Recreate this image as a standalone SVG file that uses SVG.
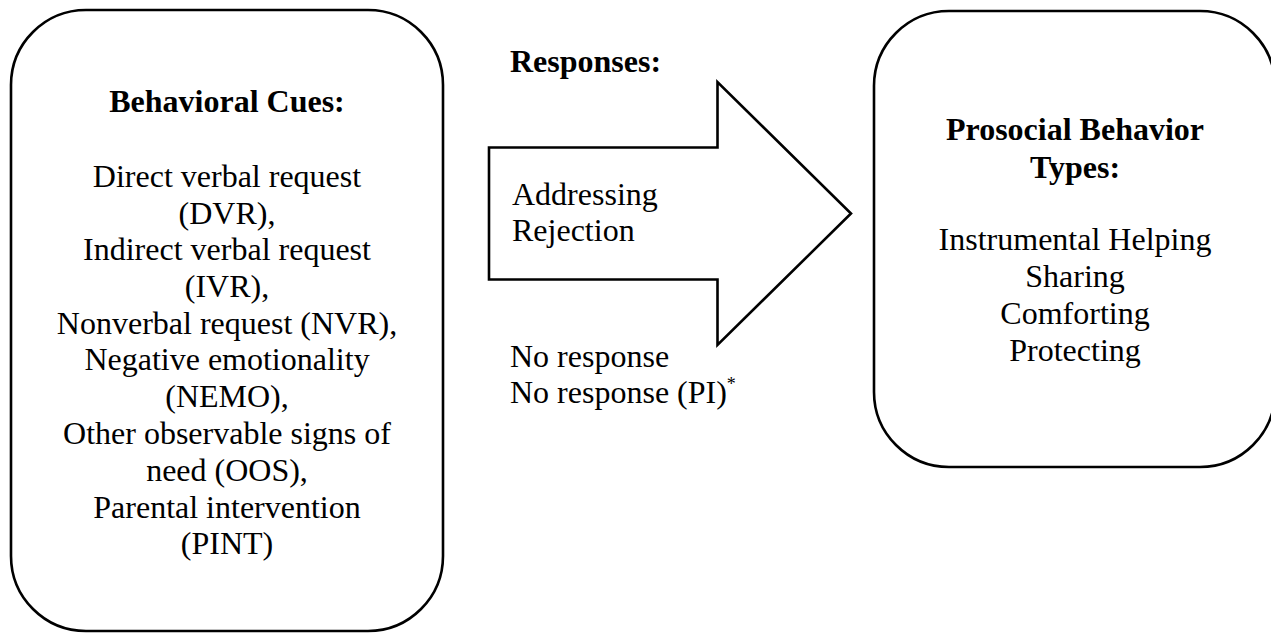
<svg xmlns="http://www.w3.org/2000/svg" width="1271" height="633" viewBox="0 0 1271 633">
<style>
.box{fill:#fff;stroke:#000;stroke-width:2.6}
text{font-family:'Liberation Serif','DejaVu Serif',serif;font-size:32px;fill:#000}
.b{font-weight:bold}
.c{text-anchor:middle}
.sup{font-size:18px}
</style>
<rect width="1271" height="633" fill="#fff"/>
<g id="cues" font-family="Liberation Serif, serif">
<rect class="box" x="11" y="10" width="432" height="621" rx="75" ry="75"/>
<text class="b c" x="227" y="112">Behavioral Cues:</text>
<text class="c" x="227" y="187">Direct verbal request</text>
<text class="c" x="227" y="223.5">(DVR),</text>
<text class="c" x="227" y="260">Indirect verbal request</text>
<text class="c" x="227" y="297">(IVR),</text>
<text class="c" x="227" y="334">Nonverbal request (NVR),</text>
<text class="c" x="227" y="370">Negative emotionality</text>
<text class="c" x="227" y="407">(NEMO),</text>
<text class="c" x="227" y="443.5">Other observable signs of</text>
<text class="c" x="227" y="481">need (OOS),</text>
<text class="c" x="227" y="517.5">Parental intervention</text>
<text class="c" x="227" y="554">(PINT)</text>
</g>
<g id="connectors">
<g id="responses">
<text class="b" x="510" y="72">Responses:</text>
<polygon class="box" stroke-linejoin="miter" points="489,147.5 717.5,147.5 717.5,82 851,213.5 717.5,345 717.5,279.5 489,279.5"/>
<text x="512" y="205">Addressing</text>
<text x="512" y="241">Rejection</text>
<text x="510" y="367">No response</text>
<text x="510" y="403">No response (PI)<tspan class="sup" dy="-13">*</tspan></text>
</g>
</g>
<g id="prosocial">
<rect class="box" x="874" y="11" width="401" height="456" rx="75" ry="75"/>
<text class="b c" x="1075" y="140">Prosocial Behavior</text>
<text class="b c" x="1075" y="178">Types:</text>
<text class="c" x="1075" y="250">Instrumental Helping</text>
<text class="c" x="1075" y="287">Sharing</text>
<text class="c" x="1075" y="324">Comforting</text>
<text class="c" x="1075" y="361">Protecting</text>
</g>
</svg>
